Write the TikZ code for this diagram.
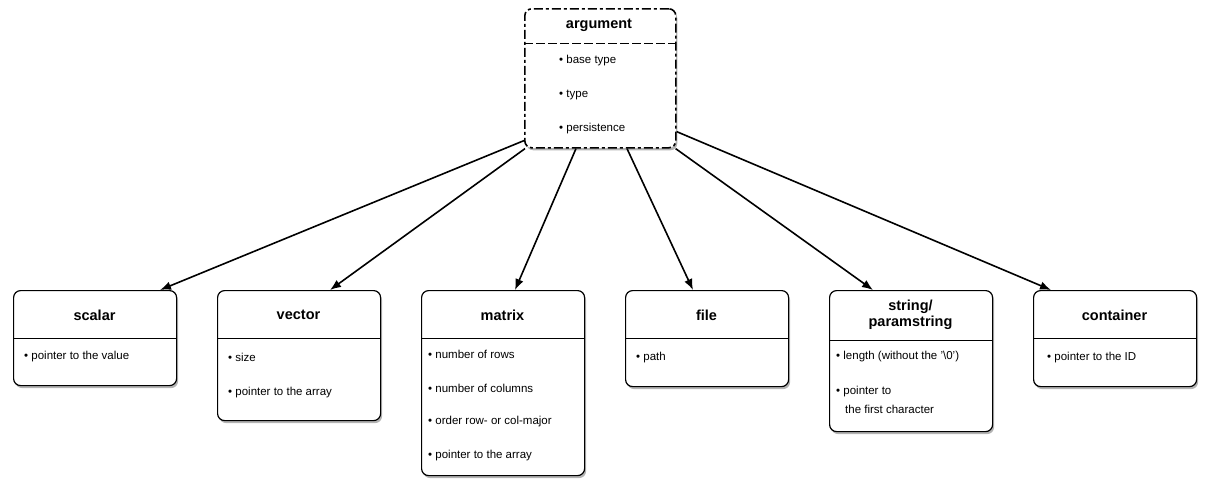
\documentclass[tikz,border=0pt]{standalone}
\usepackage{fontspec}
\setmainfont{Liberation Sans}
\usetikzlibrary{shadows,arrows.meta}
\begin{document}
\begin{tikzpicture}[x=1pt,y=-1pt,
  box/.style={draw=black,line width=1.2pt,rounded corners=7pt,fill=white,anchor=north west,inner sep=0pt,
    drop shadow={shadow xshift=1.5pt,shadow yshift=-2.5pt,opacity=0.6}},
  hd/.style={font=\bfseries\fontsize{14.5}{16.5}\selectfont,align=center},
  it/.style={font=\fontsize{11.5}{13}\selectfont,anchor=west,align=left,inner sep=0pt},
  arr/.style={line width=1.6pt,-{Latex[length=11pt,width=8.5pt]}}]
\useasboundingbox (0,0) rectangle (1207,493);
\newcommand{\bx}[5]{\node[box,minimum width=#3pt,minimum height=#4pt] (#5) at (#1,#2) {};}
% argument
\node[box,minimum width=151pt,minimum height=139pt,line width=1.6pt,dash pattern=on 9pt off 3pt on 3pt off 3pt] (arg) at (524,8) {};
\draw[line width=1pt,dash pattern=on 9pt off 3pt] (524,43) -- (675,43);
\node[hd] (argh) at (599,25) {argument};
\node[it] (a1) at (559,61) {• base type};
\node[it] (a2) at (559,95) {• type};
\node[it] (a3) at (559,129) {• persistence};
% boxes
\bx{13}{290}{163}{95}{sc}
\bx{217}{290}{163}{130}{ve}
\bx{421}{290}{163}{185}{ma}
\bx{625}{290}{163}{96}{fi}
\bx{829}{290}{163}{141}{st}
\bx{1033}{290}{163}{96}{co}
\draw (13,338) -- (176,338);
\draw (217,338) -- (380,338);
\draw (421,338) -- (584,338);
\draw (625,338) -- (788,338);
\draw (829,340) -- (992,340);
\draw (1033,338) -- (1196,338);
\node[hd] (sch) at (94.5,315) {scalar};
\node[hd] (veh) at (298.5,315) {vector};
\node[hd] (mah) at (502.5,315) {matrix};
\node[hd] (fih) at (706.5,315) {file};
\node[hd] (sth) at (910.5,315) {string/\\paramstring};
\node[hd] (coh) at (1114.5,315) {container};
\node[it] (s1) at (24,357) {• pointer to the value};
\node[it] (v1) at (228,357) {• size};
\node[it] (v2) at (228,393) {• pointer to the array};
\node[it] (m1) at (428,354) {• number of rows};
\node[it] (m2) at (428,388) {• number of columns};
\node[it] (m3) at (428,422) {• order row- or col-major};
\node[it] (m4) at (428,456) {• pointer to the array};
\node[it] (f1) at (636,358) {• path};
\node[it] (t1) at (836,357) {• length (without the '\textbackslash0')};
\node[it] (t2) at (836,392) {• pointer to};
\node[it] (t3) at (845,409) {the first character};
\node[it] (c1) at (1047,358) {• pointer to the ID};
% arrows
\draw[arr] ([yshift=8pt]arg.south west) -- ([xshift=147pt]sc.north west);
\draw[arr] ([xshift=1pt]arg.south west) -- ([xshift=113pt]ve.north west);
\draw[arr] ([xshift=52pt]arg.south west) -- ([xshift=94pt]ma.north west);
\draw[arr] ([xshift=103pt]arg.south west) -- ([xshift=68pt]fi.north west);
\draw[arr] ([xshift=-1pt]arg.south east) -- ([xshift=44pt]st.north west);
\draw[arr] ([yshift=17pt]arg.south east) -- ([xshift=18pt]co.north west);
\end{tikzpicture}
\end{document}
